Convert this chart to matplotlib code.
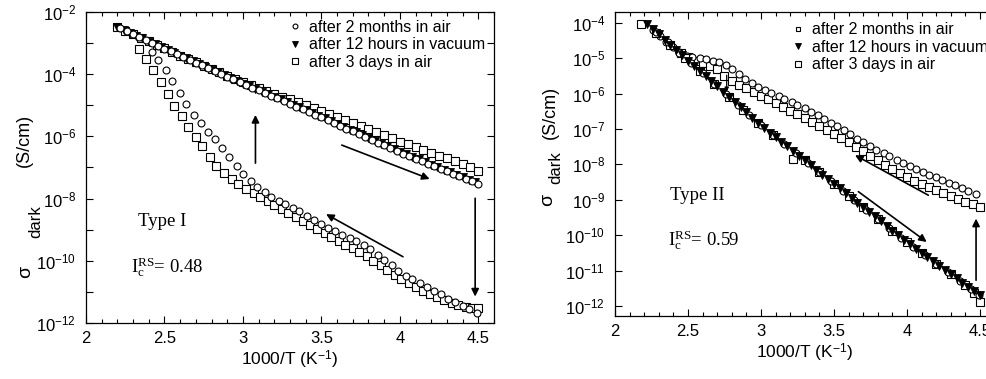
import numpy as np
import matplotlib.pyplot as plt
from matplotlib.lines import Line2D
from matplotlib.ticker import FixedLocator, FixedFormatter, MultipleLocator, NullLocator

plt.rcParams['font.family'] = 'Liberation Sans'
plt.rcParams['mathtext.fontset'] = 'custom'
plt.rcParams['mathtext.rm'] = 'Liberation Serif'
plt.rcParams['mathtext.sf'] = 'Liberation Sans'
plt.rcParams['mathtext.it'] = 'Liberation Serif:italic'

labels = ["after 2 months in air", "after 12 hours in vacuum", "after 3 days in air"]

# ---------------- Type I (left) : x = 1000/T, y = log10(sigma) ----------------
L_tri_x = [2.20, 2.24, 2.28, 2.32, 2.36, 2.40, 2.44, 2.48, 2.52, 2.56, 2.60, 2.64, 2.68, 2.72, 2.76,
           2.80, 2.84, 2.88, 2.92, 2.96, 3.00, 3.04, 3.08, 3.12, 3.16, 3.20, 3.24, 3.28, 3.32, 3.36,
           3.40, 3.44, 3.48, 3.52, 3.56, 3.60, 3.64, 3.68, 3.72, 3.76, 3.80, 3.84, 3.88, 3.92, 3.96,
           4.00, 4.04, 4.08, 4.12, 4.16, 4.20, 4.24, 4.28, 4.32, 4.36, 4.40, 4.44, 4.48]
L_tri_y = [-2.48, -2.57, -2.67, -2.76, -2.85, -2.95, -3.04, -3.13, -3.22, -3.31, -3.40, -3.49, -3.58,
           -3.67, -3.76, -3.85, -3.94, -4.03, -4.12, -4.21, -4.30, -4.39, -4.47, -4.56, -4.64, -4.73,
           -4.81, -4.90, -4.98, -5.07, -5.16, -5.24, -5.33, -5.42, -5.51, -5.60, -5.69, -5.78, -5.87,
           -5.96, -6.05, -6.14, -6.23, -6.32, -6.41, -6.50, -6.58, -6.66, -6.74, -6.83, -6.91, -6.99,
           -7.07, -7.15, -7.23, -7.32, -7.40, -7.48]

L_circ_up_x = [2.22, 2.26, 2.30, 2.34, 2.38, 2.42, 2.46, 2.50, 2.54, 2.58, 2.62, 2.66, 2.70, 2.74,
               2.78, 2.82, 2.86, 2.90, 2.94, 2.98, 3.02, 3.06, 3.10, 3.14, 3.18, 3.22, 3.26, 3.30,
               3.34, 3.38, 3.42, 3.46, 3.50, 3.54, 3.58, 3.62, 3.66, 3.70, 3.74, 3.78, 3.82, 3.86,
               3.90, 3.94, 3.98, 4.02, 4.06, 4.10, 4.14, 4.18, 4.22, 4.26, 4.30, 4.34, 4.38, 4.42,
               4.46, 4.50]
L_circ_up_y = [-2.53, -2.62, -2.72, -2.81, -2.90, -3.00, -3.09, -3.18, -3.27, -3.36, -3.45, -3.54,
               -3.63, -3.72, -3.81, -3.90, -3.99, -4.08, -4.17, -4.26, -4.35, -4.44, -4.52, -4.61,
               -4.70, -4.78, -4.87, -4.95, -5.04, -5.13, -5.22, -5.30, -5.39, -5.48, -5.57, -5.66,
               -5.75, -5.84, -5.93, -6.02, -6.11, -6.20, -6.29, -6.38, -6.47, -6.56, -6.64, -6.72,
               -6.80, -6.88, -6.96, -7.04, -7.12, -7.20, -7.28, -7.37, -7.45, -7.53]

L_circ_low_x = [2.42, 2.46, 2.51, 2.55, 2.60, 2.64, 2.69, 2.73, 2.78, 2.82, 2.87, 2.91, 2.96, 3.00,
                3.05, 3.09, 3.14, 3.18, 3.23, 3.27, 3.32, 3.36, 3.41, 3.45, 3.50, 3.54, 3.59, 3.63,
                3.68, 3.72, 3.77, 3.81, 3.86, 3.90, 3.95, 3.99, 4.04, 4.08, 4.13, 4.17, 4.22, 4.26,
                4.31, 4.35, 4.40, 4.44, 4.49]
L_circ_low_y = [-3.28, -3.54, -3.86, -4.22, -4.59, -4.97, -5.30, -5.58, -5.85, -6.09, -6.38, -6.65,
                -6.95, -7.21, -7.45, -7.63, -7.80, -7.94, -8.07, -8.18, -8.30, -8.41, -8.55, -8.68,
                -8.82, -8.93, -9.05, -9.16, -9.28, -9.38, -9.50, -9.63, -9.80, -9.97, -10.15, -10.32,
                -10.48, -10.60, -10.72, -10.84, -10.96, -11.08, -11.22, -11.34, -11.45, -11.55, -11.68]

L_sq_up_x = [2.20, 2.25, 2.30, 2.35, 2.40, 2.45, 2.50, 2.55, 2.60, 2.65, 2.70, 2.75, 2.80, 2.85,
             2.90, 2.95, 3.00, 3.05, 3.10, 3.15, 3.20, 3.25, 3.30, 3.35, 3.40, 3.45, 3.50, 3.55,
             3.60, 3.65, 3.70, 3.75, 3.80, 3.85, 3.90, 3.95, 4.00, 4.05, 4.10, 4.15, 4.20, 4.25,
             4.30, 4.35, 4.40, 4.45, 4.50]
L_sq_up_y = [-2.48, -2.60, -2.71, -2.83, -2.94, -3.06, -3.17, -3.29, -3.40, -3.51, -3.62, -3.73,
             -3.84, -3.94, -4.05, -4.15, -4.25, -4.35, -4.44, -4.54, -4.63, -4.72, -4.81, -4.91,
             -5.00, -5.10, -5.19, -5.29, -5.38, -5.47, -5.56, -5.66, -5.76, -5.86, -5.96, -6.06,
             -6.17, -6.26, -6.35, -6.44, -6.53, -6.62, -6.71, -6.80, -6.90, -7.00, -7.10]

L_sq_low_x = [2.34, 2.38, 2.43, 2.48, 2.52, 2.56, 2.61, 2.65, 2.70, 2.74, 2.79, 2.83, 2.88, 2.93,
              2.97, 3.02, 3.07, 3.11, 3.16, 3.20, 3.25, 3.29, 3.34, 3.38, 3.43, 3.47, 3.52, 3.56,
              3.61, 3.65, 3.70, 3.74, 3.79, 3.83, 3.88, 3.92, 3.97, 4.01, 4.06, 4.10, 4.15, 4.19,
              4.24, 4.28, 4.33, 4.37, 4.42, 4.46, 4.50]
L_sq_low_y = [-3.20, -3.52, -3.86, -4.24, -4.65, -5.01, -5.34, -5.69, -6.01, -6.32, -6.65, -6.95,
              -7.19, -7.38, -7.54, -7.69, -7.83, -7.95, -8.09, -8.22, -8.35, -8.47, -8.60, -8.72,
              -8.86, -8.98, -9.10, -9.22, -9.35, -9.48, -9.60, -9.72, -9.85, -10.00, -10.15, -10.30,
              -10.45, -10.59, -10.72, -10.84, -10.96, -11.07, -11.18, -11.27, -11.36, -11.42, -11.48,
              -11.52, -11.52]

# ---------------- Type II (right) ----------------
R_tri_x = [2.22, 2.26, 2.30, 2.34, 2.38, 2.42, 2.46, 2.50, 2.54, 2.58, 2.62, 2.66, 2.70, 2.74,
           2.78, 2.82, 2.86, 2.90, 2.94, 2.98, 3.02, 3.06, 3.10, 3.14, 3.18, 3.22, 3.26, 3.30,
           3.34, 3.38, 3.42, 3.46, 3.50, 3.54, 3.58, 3.62, 3.66, 3.70, 3.74, 3.78, 3.82, 3.86,
           3.90, 3.94, 3.98, 4.02, 4.06, 4.10, 4.14, 4.18, 4.22, 4.26, 4.30, 4.34, 4.38, 4.42,
           4.46, 4.50]
R_tri_y = [-4.04, -4.19, -4.33, -4.48, -4.63, -4.77, -4.92, -5.07, -5.22, -5.36, -5.51, -5.66,
           -5.80, -5.95, -6.09, -6.24, -6.39, -6.53, -6.68, -6.83, -6.97, -7.10, -7.23, -7.36,
           -7.49, -7.63, -7.76, -7.89, -8.02, -8.15, -8.29, -8.42, -8.55, -8.68, -8.81, -8.95,
           -9.08, -9.21, -9.34, -9.47, -9.61, -9.74, -9.87, -10.00, -10.13, -10.26, -10.38, -10.50,
           -10.62, -10.74, -10.86, -10.98, -11.10, -11.22, -11.34, -11.46, -11.58, -11.70]

R_circ_up_x = [2.26, 2.31, 2.35, 2.40, 2.44, 2.49, 2.53, 2.58, 2.62, 2.67, 2.71, 2.76, 2.80, 2.85,
               2.89, 2.94, 2.98, 3.03, 3.07, 3.12, 3.16, 3.21, 3.25, 3.30, 3.34, 3.39, 3.43, 3.48,
               3.52, 3.57, 3.61, 3.66, 3.70, 3.75, 3.79, 3.84, 3.88, 3.93, 3.97, 4.02, 4.06, 4.11,
               4.15, 4.20, 4.24, 4.29, 4.33, 4.38, 4.42, 4.47]
R_circ_up_y = [-4.20, -4.38, -4.55, -4.70, -4.83, -4.93, -4.98, -5.00, -5.03, -5.07, -5.12, -5.20,
               -5.30, -5.45, -5.58, -5.71, -5.81, -5.90, -5.99, -6.07, -6.15, -6.24, -6.33, -6.42,
               -6.51, -6.61, -6.71, -6.82, -6.93, -7.04, -7.15, -7.27, -7.37, -7.48, -7.58, -7.68,
               -7.77, -7.87, -7.96, -8.05, -8.13, -8.21, -8.29, -8.37, -8.44, -8.52, -8.59, -8.67,
               -8.74, -8.83]

R_circ_low_x = [2.28, 2.36, 2.44, 2.52, 2.60, 2.68, 2.76, 2.84, 2.92, 3.00, 3.08, 3.16, 3.24, 3.32,
                3.40, 3.48, 3.56, 3.64, 3.72, 3.80, 3.88, 3.96, 4.04, 4.12, 4.20, 4.28, 4.36, 4.44,
                4.49]
R_circ_low_y = [-4.26, -4.55, -4.85, -5.14, -5.43, -5.73, -6.02, -6.32, -6.61, -6.90, -7.16, -7.43,
                -7.69, -7.96, -8.22, -8.48, -8.75, -9.01, -9.28, -9.54, -9.80, -10.07, -10.32,
                -10.56, -10.80, -11.04, -11.28, -11.52, -11.69]

R_sq_up_x = [2.45, 2.50, 2.55, 2.60, 2.65, 2.70, 2.75, 2.80, 2.85, 2.90, 2.95, 3.00, 3.05, 3.10,
             3.15, 3.20, 3.25, 3.30, 3.35, 3.40, 3.45, 3.50, 3.55, 3.60, 3.65, 3.70, 3.75, 3.80,
             3.85, 3.90, 3.95, 4.00, 4.05, 4.10, 4.15, 4.20, 4.25, 4.30, 4.35, 4.40, 4.45, 4.50]
R_sq_up_y = [-4.85, -4.98, -5.08, -5.15, -5.22, -5.32, -5.50, -5.65, -5.75, -5.85, -5.95, -6.06,
             -6.16, -6.27, -6.37, -6.48, -6.58, -6.69, -6.80, -6.91, -7.02, -7.13, -7.25, -7.37,
             -7.50, -7.63, -7.76, -7.89, -8.01, -8.13, -8.25, -8.36, -8.46, -8.55, -8.64, -8.73,
             -8.82, -8.90, -8.98, -9.06, -9.13, -9.20]

R_sq_low_x = [2.18, 2.28, 2.38, 2.48, 2.58, 2.68, 2.78, 2.88, 2.98, 3.08, 3.22, 3.30, 3.40, 3.50,
              3.60, 3.70, 3.80, 3.90, 4.00, 4.10, 4.20, 4.30, 4.40, 4.46, 4.50]
R_sq_low_y = [-4.04, -4.30, -4.62, -4.99, -5.36, -5.73, -6.09, -6.46, -6.82, -7.16, -7.85, -7.89,
              -8.22, -8.55, -8.88, -9.21, -9.54, -9.87, -10.20, -10.50, -10.80, -11.10, -11.40,
              -11.62, -11.88]

L_exponents = [-12, -11, -10, -9, -8, -7, -6, -5, -4, -3, -2]
R_exponents = [-12, -11, -10, -9, -8, -7, -6, -5, -4]
x_ticks = [2, 2.5, 3, 3.5, 4, 4.5]
x_ticklabels = ["2", "2.5", "3", "3.5", "4", "4.5"]

fig = plt.figure(figsize=(9.87, 3.79), dpi=100)
ax1 = fig.add_axes([0.0871, 0.1478, 0.4134, 0.8206])
ax2 = fig.add_axes([0.6231, 0.1662, 0.3846, 0.8029])

circ = dict(marker='o', ms=5, mfc='white', mec='black', mew=0.8, ls='none')
tri = dict(marker='v', ms=5.5, mfc='black', mec='black', mew=0.6, ls='none')
sq = dict(marker='s', ms=5.8, mfc='white', mec='black', mew=0.8, ls='none')


def logs(v):
    return 10.0 ** np.array(v)


ax1.plot(L_sq_low_x, logs(L_sq_low_y), **sq)
ax1.plot(L_sq_up_x, logs(L_sq_up_y), **sq)
ax1.plot(L_circ_low_x, logs(L_circ_low_y), **circ)
ax1.plot(L_tri_x, logs(L_tri_y), **tri)
ax1.plot(L_circ_up_x, logs(L_circ_up_y), **circ)

ax2.plot(R_sq_up_x, logs(R_sq_up_y), **sq)
ax2.plot(R_circ_up_x, logs(R_circ_up_y), **circ)
ax2.plot(R_sq_low_x, logs(R_sq_low_y), **sq)
ax2.plot(R_circ_low_x, logs(R_circ_low_y), **circ)
ax2.plot(R_tri_x, logs(R_tri_y), **tri)

arrow = dict(arrowstyle='-|>', color='black', lw=1.2, mutation_scale=11, shrinkA=0, shrinkB=0)
# Type I arrows (tail -> head)
ax1.annotate('', xy=(4.19, 10**-7.37), xytext=(3.63, 10**-6.28), arrowprops=arrow)
ax1.annotate('', xy=(4.48, 10**-11.15), xytext=(4.48, 10**-7.99), arrowprops=arrow)
ax1.annotate('', xy=(3.53, 10**-8.5), xytext=(4.02, 10**-9.87), arrowprops=arrow)
ax1.annotate('', xy=(3.08, 10**-5.31), xytext=(3.08, 10**-6.86), arrowprops=arrow)
# Type II arrows
ax2.annotate('', xy=(3.644, 10**-7.74), xytext=(4.146, 10**-8.87), arrowprops=arrow)
ax2.annotate('', xy=(4.135, 10**-10.19), xytext=(3.667, 10**-8.77), arrowprops=arrow)
ax2.annotate('', xy=(4.473, 10**-9.53), xytext=(4.473, 10**-11.27), arrowprops=arrow)
ax2.annotate('', xy=(2.765, 10**-5.95), xytext=(2.765, 10**-5.48),
             arrowprops=dict(arrowstyle='-|>', color='black', lw=0.9, mutation_scale=6,
                             shrinkA=0, shrinkB=0))

ax1.text(2.33, 10**-8.75, 'Type I', family='Liberation Serif', fontsize=13.5, va='center')
ax1.text(2.29, 10**-10.2, r'I$_\mathrm{c}^\mathrm{RS}$= 0.48', family='Liberation Serif',
         fontsize=13.5, va='center')
ax2.text(2.38, 10**-8.87, 'Type II', family='Liberation Serif', fontsize=13.5, va='center')
ax2.text(2.36, 10**-10.14, r'I$_\mathrm{c}^\mathrm{RS}$= 0.59', family='Liberation Serif',
         fontsize=13.5, va='center')

for ax, exps, ylim, show_every in [(ax1, L_exponents, (1e-12, 1e-2), 2),
                                   (ax2, R_exponents, (10**-12.28, 10**-3.69), 1)]:
    ax.set_yscale('log')
    ax.set_xlim(2, 4.6)
    ax.set_ylim(*ylim)
    ax.yaxis.set_major_locator(FixedLocator([10.0 ** e for e in exps]))
    ax.yaxis.set_major_formatter(FixedFormatter(
        [r'$\mathsf{10^{%d}}$' % e if e % show_every == 0 else '' for e in exps]))
    ax.yaxis.set_minor_locator(NullLocator())
    ax.set_xticks(x_ticks)
    ax.set_xticklabels(x_ticklabels)
    ax.xaxis.set_minor_locator(MultipleLocator(0.1))
    ax.tick_params(which='both', direction='in', top=True, right=True, labelsize=12)
    ax.tick_params(which='major', length=5, width=0.8)
    ax.tick_params(which='minor', length=3, width=0.8)
    ax.tick_params(axis='y', pad=7)
    ax.tick_params(axis='x', pad=6)
    for s in ax.spines.values():
        s.set_linewidth(0.9)
    ax.set_xlabel(r'1000/T (K$^{\mathsf{-1}}$)', fontsize=12.5, labelpad=2)

hL = [Line2D([], [], **dict(circ, ms=3.5)), Line2D([], [], **dict(tri, ms=4)),
      Line2D([], [], **dict(sq, ms=3.8))]
hR = [Line2D([], [], **dict(sq, ms=3.5)), Line2D([], [], **dict(tri, ms=4)),
      Line2D([], [], **dict(sq, ms=3.8))]
for ax, h, anchor in [(ax1, hL, (0.4966, 0.975)), (ax2, hR, (0.465, 0.965))]:
    ax.legend(h, labels, loc='upper left', bbox_to_anchor=anchor, frameon=False, fontsize=11.5,
              handlelength=0.8, handletextpad=0.5, labelspacing=0.15, borderpad=0, borderaxespad=0)

# y-axis labels (sigma_dark (S/cm))
W, H = 987, 379
for sx, sy, dx, dy, cx, cy in [(26, 272, 36, 222, 24, 140), (548, 200, 556, 168, 550, 112)]:
    fig.text(sx / W, 1 - sy / H, 'σ', rotation=90, ha='center', va='center', fontsize=14)
    fig.text(dx / W, 1 - dy / H, 'dark', rotation=90, ha='center', va='center', fontsize=12)
    fig.text(cx / W, 1 - cy / H, '(S/cm)', rotation=90, ha='center', va='center', fontsize=13)

fig.savefig('out.png', dpi=100)
